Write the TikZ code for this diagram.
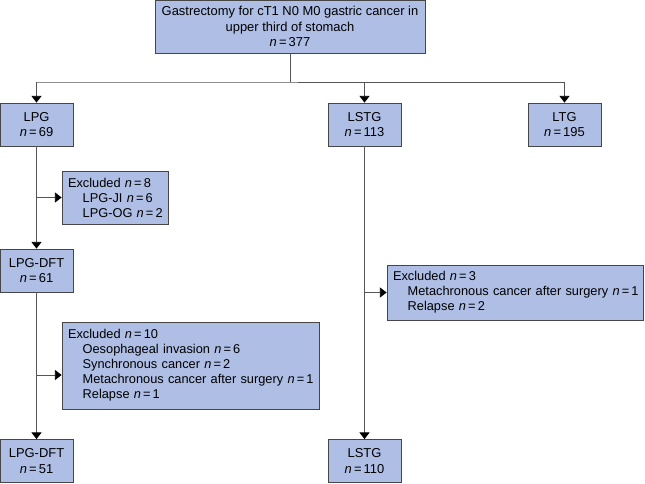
\documentclass[tikz,border=0pt]{standalone}
\usepackage{fontspec}
\setmainfont{Liberation Sans}
\usetikzlibrary{positioning}
\usetikzlibrary{arrows.meta}
\definecolor{boxfill}{RGB}{174,190,228}
\definecolor{boxline}{RGB}{70,70,70}
\definecolor{flowline}{RGB}{85,85,85}
\tikzstyle{every box} = [draw=boxline, fill=boxfill, line width=0.6pt, inner sep=0pt]
\tikzstyle{box} = [every box, align=center, font=\fontsize{9.7}{11.8}\selectfont]
\tikzstyle{excl} = [every box, align=left, font=\fontsize{9.6}{11.25}\selectfont]
\tikzstyle{flow} = [draw=flowline, line width=0.6pt]
\tikzstyle{link} = [flow, -{Triangle[width=7.5pt,length=5pt,color=black]}]
\newcommand{\nn}[1]{\textit{n}\,=\,#1}
\newcommand{\sub}[1]{\mbox{\hspace*{11pt}#1}}

\begin{document}
\begin{tikzpicture}[x=0.75pt, y=-0.75pt]
        \useasboundingbox (0,0) rectangle (645,483);
        \tikzstyle{every node} = [minimum height=32.25pt]

        % study population
        \node[box, minimum width=202.5pt, minimum height=39.75pt] (gast) at (290,26.5)
            {Gastrectomy for cT1 N0 M0 gastric cancer in\\upper third of stomach\\\nn{377}};

        % procedures
        \node[box, minimum width=54.75pt] (lpg) at (36.5,124.5) {LPG\\\nn{69}};
        \node[box, minimum width=54.75pt] (lstg) at (364.5,124.5) {LSTG\\\nn{113}};
        \node[box, minimum width=54.75pt] (ltg) at (564.5,124.5) {LTG\\\nn{195}};
        \node[box, minimum width=54.75pt] (dft) at (36.5,270.5) {LPG-DFT\\\nn{61}};
        \node[box, minimum width=54.75pt] (dftend) at (36.5,461) {LPG-DFT\\\nn{51}};
        \node[box, minimum width=54.75pt] (lstgend) at (364.5,461) {LSTG\\\nn{110}};

        % exclusions
        \node[excl, minimum width=79.5pt, minimum height=39.75pt, text width=70.5pt] (exa) at (115,197.5)
            {\mbox{Excluded \nn{8}}\\\sub{LPG-JI \nn{6}}\\\sub{LPG-OG \nn{2}}};
        \node[excl, minimum width=192.75pt, minimum height=65.25pt, text width=183.75pt] (exb) at (190.5,365.5)
            {\mbox{Excluded \nn{10}}\\\sub{Oesophageal invasion \nn{6}}\\\sub{Synchronous cancer \nn{2}}\\
             \sub{Metachronous cancer after surgery \nn{1}}\\\sub{Relapse \nn{1}}};
        \node[excl, minimum width=192pt, minimum height=41.25pt, text width=183pt] (exc) at (515,292.5)
            {\mbox{Excluded \nn{3}}\\\sub{Metachronous cancer after surgery \nn{1}}\\\sub{Relapse \nn{2}}};

        % branch points
        \coordinate (split) at (290,82);
        \coordinate (ba) at (37,197.5);
        \coordinate (bb) at (37,375);
        \coordinate (bc) at (364.5,292.5);

        \draw[flow] (gast) -- (split);
        \draw[flow] (split) -- (lpg.north |- split) -- (ltg.north |- split);
        \draw[link] (lpg.north |- split) -- (lpg);
        \draw[link] (lstg.north |- split) -- (lstg);
        \draw[link] (ltg.north |- split) -- (ltg);

        \draw[link] (lpg) -- (dft);
        \draw[link] (dft) -- (dftend);
        \draw[link] (lstg) -- (lstgend);

        \draw[link] (ba) -- (exa);
        \draw[link] (bb) -- (bb -| exb.west);
        \draw[link] (bc) -- (exc);
\end{tikzpicture}
\end{document}
